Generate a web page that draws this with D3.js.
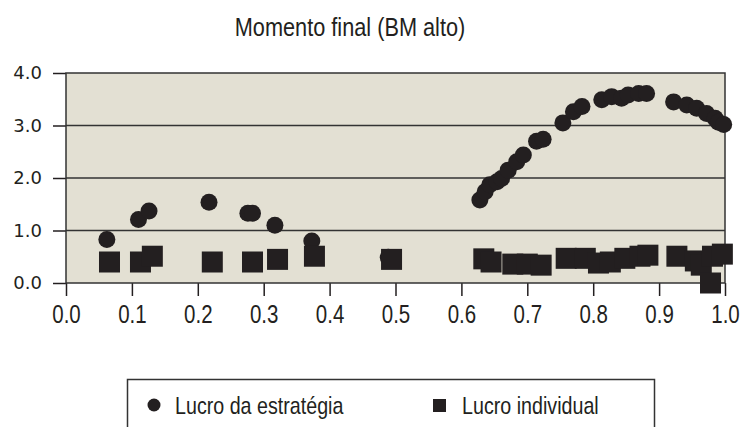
<!DOCTYPE html>
<html>
<head>
<meta charset="utf-8">
<script src="https://cdn.jsdelivr.net/npm/d3@7"></script>
<style>
  body { margin: 0; background: #fff; }
  svg { display: block; }
</style>
</head>
<body>
<svg id="chart" width="746" height="427"></svg>
<script>
// Lucro da estratégia (circles)
const strategyX = [0.062, 0.110, 0.126, 0.217, 0.276, 0.283, 0.317, 0.373, 0.489,
  0.628, 0.636, 0.643, 0.654, 0.661, 0.671, 0.684, 0.694, 0.714, 0.724,
  0.754, 0.770, 0.783, 0.813, 0.828, 0.843, 0.853, 0.869, 0.881,
  0.922, 0.942, 0.957, 0.972, 0.985, 0.990, 0.998];
const strategyY = [0.83, 1.21, 1.37, 1.54, 1.33, 1.33, 1.10, 0.80, 0.49,
  1.58, 1.74, 1.87, 1.93, 1.99, 2.15, 2.31, 2.44, 2.70, 2.74,
  3.05, 3.26, 3.36, 3.49, 3.55, 3.52, 3.58, 3.61, 3.61,
  3.45, 3.39, 3.33, 3.23, 3.14, 3.06, 3.02];

// Lucro individual (squares)
const individualX = [0.066, 0.113, 0.131, 0.222, 0.283, 0.321, 0.377, 0.494,
  0.634, 0.645, 0.678, 0.700, 0.721, 0.759, 0.788,
  0.808, 0.826, 0.848, 0.871, 0.883,
  0.927, 0.955, 0.964, 0.981, 0.996, 0.978];
const individualY = [0.40, 0.40, 0.51, 0.40, 0.40, 0.45, 0.51, 0.45,
  0.46, 0.40, 0.36, 0.36, 0.34, 0.47, 0.47,
  0.38, 0.40, 0.47, 0.51, 0.53,
  0.51, 0.42, 0.34, 0.51, 0.55, 0.0];

const xTicks = [0, 0.1, 0.2, 0.3, 0.4, 0.5, 0.6, 0.7, 0.8, 0.9, 1.0];
const yTicks = [0, 1, 2, 3, 4];

const title = 'Momento final (BM alto)';
const seriesNames = ['Lucro da estratégia', 'Lucro individual'];

const ink = '#231f20';
// no narrow face installed, so squeeze Liberation Sans horizontally
const narrow = '"Liberation Sans", Arial, sans-serif';
const squeeze = 0.82;

const svg = d3.select('#chart');
const plot = { left: 66, right: 725, top: 73, bottom: 283 };

const x = d3.scaleLinear().domain([0, 1]).range([plot.left, plot.right]);
const y = d3.scaleLinear().domain([0, 4]).range([plot.bottom, plot.top]);

svg.append('text')
  .attr('transform', `translate(350,36) scale(${squeeze},1)`)
  .attr('text-anchor', 'middle')
  .style('font-family', narrow)
  .style('font-size', '26.5px')
  .attr('fill', ink)
  .text(title);

svg.append('rect')
  .attr('x', plot.left)
  .attr('y', plot.top)
  .attr('width', plot.right - plot.left)
  .attr('height', plot.bottom - plot.top)
  .attr('fill', '#e3e0d3');

// gridlines
svg.append('g')
  .selectAll('line')
  .data(yTicks.filter(d => d > 0 && d < 4))
  .join('line')
  .attr('x1', plot.left)
  .attr('x2', plot.right)
  .attr('y1', d => y(d))
  .attr('y2', d => y(d))
  .attr('stroke', '#333')
  .attr('stroke-width', 1.5);

// y axis
const yAxis = svg.append('g')
  .attr('transform', `translate(${plot.left},0)`)
  .call(d3.axisLeft(y).tickValues(yTicks).tickFormat(d3.format('.1f')).tickSize(13).tickPadding(11));
yAxis.select('.domain').remove();
yAxis.selectAll('line').attr('stroke', ink).attr('stroke-width', 1.5);
yAxis.selectAll('text')
  .style('font-family', '"DejaVu Sans", sans-serif')
  .style('font-size', '18px')
  .attr('fill', ink);

// x axis
const xAxis = svg.append('g')
  .attr('transform', `translate(0,${plot.bottom})`)
  .call(d3.axisBottom(x).tickValues(xTicks).tickFormat(d3.format('.1f')).tickSize(13).tickPadding(9));
xAxis.select('.domain').remove();
xAxis.selectAll('line').attr('stroke', ink).attr('stroke-width', 1.5);
xAxis.selectAll('text')
  .attr('transform', `scale(${squeeze},1)`)
  .style('font-family', narrow)
  .style('font-size', '25px')
  .attr('fill', ink);

// frame
svg.append('rect')
  .attr('x', plot.left)
  .attr('y', plot.top)
  .attr('width', plot.right - plot.left)
  .attr('height', plot.bottom - plot.top)
  .attr('fill', 'none')
  .attr('stroke', '#333')
  .attr('stroke-width', 1.5);

const strategy = strategyX.map((v, i) => ({ x: v, y: strategyY[i] }));
const individual = individualX.map((v, i) => ({ x: v, y: individualY[i] }));

svg.append('g')
  .selectAll('circle')
  .data(strategy)
  .join('circle')
  .attr('cx', d => x(d.x))
  .attr('cy', d => y(d.y))
  .attr('r', 8.5)
  .attr('fill', ink);

const sq = 21;
svg.append('g')
  .selectAll('rect')
  .data(individual)
  .join('rect')
  .attr('x', d => x(d.x) - sq / 2)
  .attr('y', d => y(d.y) - sq / 2)
  .attr('width', sq)
  .attr('height', sq)
  .attr('fill', ink);

// legend
const legend = svg.append('g');
legend.append('rect')
  .attr('x', 127.5)
  .attr('y', 379.5)
  .attr('width', 527)
  .attr('height', 60)
  .attr('fill', '#fff')
  .attr('stroke', '#333')
  .attr('stroke-width', 1.5);
legend.append('circle')
  .attr('cx', 154)
  .attr('cy', 405)
  .attr('r', 6.5)
  .attr('fill', ink);
legend.append('rect')
  .attr('x', 433)
  .attr('y', 399)
  .attr('width', 13)
  .attr('height', 13)
  .attr('fill', ink);
legend.selectAll('text.lg')
  .data(seriesNames)
  .join('text')
  .attr('class', 'lg')
  .attr('transform', (d, i) => `translate(${i === 0 ? 175 : 462},414) scale(${squeeze},1)`)
  .style('font-family', narrow)
  .style('font-size', '24px')
  .attr('fill', ink)
  .text(d => d);
</script>
</body>
</html>
